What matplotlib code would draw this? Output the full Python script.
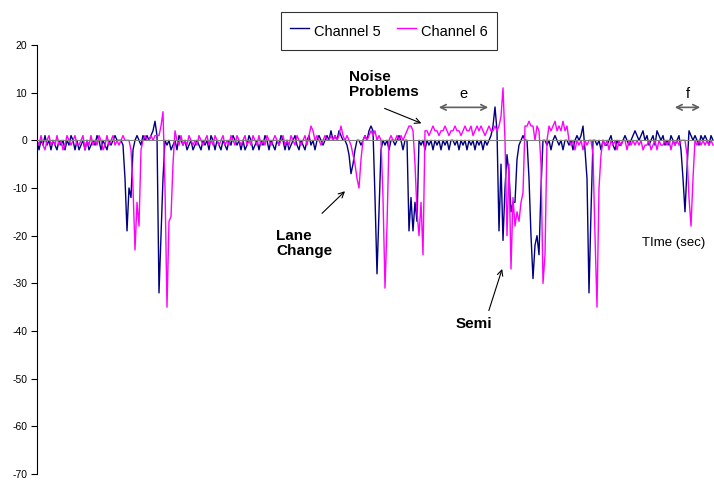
import numpy as np
import matplotlib
matplotlib.use("Agg")
import matplotlib.pyplot as plt

plt.rcParams['font.family'] = ['Liberation Sans', 'DejaVu Sans']
plt.rcParams['axes.unicode_minus'] = False

# one sample every 2 px of the original chart
channel5 = [
    0, -2, 0, -1, 1, -1, 0, -2, 0, -1, -2, 0, -1, 0, -2, 0, -1, 1, 0, -2,
    0, -2, -1, 0, -2, 0, -2, -1, 0, -1, 1, 0, -2, 0, -1, -2, 0, -1, 0, 1,
    0, 0, 0, -1, -8, -19, -10, -12, -2, 0, 1, 0, -1, 1, 0, 1, 0, 1, 2, 4,
    1, -32, -20, -8, 0, -1, 0, -2, -1, 0, -2, 1, 0, -1, 0, -2, -1, 0, -2, -1,
    0, -1, -2, 0, -1, 0, -2, 1, 0, -2, 0, -1, -2, 0, -1, -2, 0, -1, 1, 0,
    -1, 0, -2, 0, -2, -1, 1, 0, -2, -1, 0, -2, 0, -1, 1, 0, -2, 0, -1, -2,
    0, -1, 1, 0, -2, 0, -2, -1, 0, 1, -1, -2, 0, -1, -2, 0, 1, -1, 0, -2,
    0, 1, 0, -1, 0, 1, 0, 2, 0, 1, 0, 2, 1, 0, 0, -1, -3, -7, -5, -2,
    0, 0, -1, 0, 1, 0, 2, 3, 2, -12, -28, -15, -2, 0, -1, 0, -2, 0, 0, -1,
    0, 1, 0, -2, 0, 0, -19, -12, -19, -13, -17, 0, -1, 0, -2, 0, -1, 0, -2, 0,
    -1, 0, -2, 0, -1, 0, -2, 0, 0, -1, 0, -2, 0, -1, 0, -2, 0, -1, 0, -2,
    0, -1, 0, -2, 0, -1, 0, 1, 3, 7, 2, -19, -5, -21, -10, -3, -7, -15, -13, -13,
    -4, -1, 0, 1, 0, 0, -8, -20, -29, -22, -20, -24, -10, 0, 0, -1, 0, -2, 0, 1,
    0, -1, 0, -2, 0, 0, -1, 0, -2, 0, 1, 0, 1, 3, -2, -8, -32, -15, 0, 0,
    -1, 0, -2, 0, -1, -1, 0, 1, -1, -2, 0, -1, -1, 0, 1, 0, -1, 0, 1, 2,
    1, 0, 1, 2, 0, 1, -1, 0, 1, -1, 2, 1, 0, 1, -1, 0, -1, 1, 0, -1,
    0, 1, -2, -8, -15, -6, 2, 1, 0, 1, 0, -1, 1, 0, 1, 0, -1, 1, 0,
]

channel6 = [
    0, -1, 1, -1, -2, 0, 1, -1, 0, -1, 1, -1, 0, -2, -1, 1, 0, -1, 0, 1,
    -1, -1, 0, 1, -2, 0, -1, 1, -1, 0, -1, 1, 0, -2, -1, 1, -1, 0, 1, -1,
    0, -1, 0, 1, 0, 0, 0, -2, -10, -23, -13, -18, -2, 0, 1, 0, 0, 1, 0, 1,
    1, 1, 3, 6, -10, -35, -17, -16, -5, 2, 0, -1, 1, -1, 0, -1, 1, 0, -1, 0,
    -1, 1, 0, -1, 0, 1, -1, 0, -1, 1, 0, -1, 0, 1, -1, 0, -1, 1, 0, -1,
    1, 0, -1, 0, 1, -1, 0, -1, 1, 0, -1, 1, -1, 0, -1, 1, 0, -1, 0, 1,
    0, -1, 0, 1, -1, 0, -1, 1, 0, -1, 1, 0, -1, 0, 1, -1, 1, 3, 2, 0,
    1, 0, -1, 0, 1, 0, 0, 1, 0, 1, 0, 1, 3, 1, 0, 1, 0, -1, -3, -5,
    -8, -10, -4, 0, 1, 0, 1, 2, 1, 2, 0, 1, 0, -12, -31, -18, 0, 1, 0, 0,
    1, 0, 1, 0, 1, 2, 3, 3, 2, -5, -15, -20, -13, -24, 2, 2, 1, 2, 3, 2,
    2, 1, 2, 2, 3, 2, 1, 2, 2, 3, 2, 2, 1, 2, 3, 2, 2, 3, 1, 2,
    3, 2, 3, 2, 1, 2, 3, 2, 2, 3, 2, 3, 5, 11, 0, -20, -5, -27, -12, -18,
    -15, -17, -13, -11, 3, 3, 4, 3, 3, 0, 3, 2, -5, -30, -24, 0, 3, 2, 3, 4,
    2, 3, 2, 4, 2, 3, 0, -1, 0, -2, 0, -1, 0, -2, 0, -1, 0, 0, -3, -20,
    -35, -10, -3, 0, -1, 0, -2, 0, -1, 0, -2, 0, -1, 0, 0, -2, 0, -1, 0, -1,
    0, -1, 0, -2, -1, -1, 0, -2, -1, 0, -2, 0, -1, -1, 0, -1, 0, -2, 0, -1,
    0, -1, 0, 0, 0, -3, -12, -18, -8, 0, -1, 0, -1, 0, -1, 0, -1, 0, -1,
]

series_names = ['Channel 5', 'Channel 6']
y_ticks = [20, 10, 0, -10, -20, -30, -40, -50, -60, -70]

W, H = 714, 480
fig = plt.figure(figsize=(W / 100, H / 100), dpi=100)
ax = fig.add_axes([37 / W, 6 / H, (W - 37) / W, (474 - 45) / H])

x = np.arange(len(channel5))
ax.plot(x, channel5, color='#000080', lw=1.0, label=series_names[0])
ax.plot(np.arange(len(channel6)), channel6, color='#FF00FF', lw=1.0, label=series_names[1])

ax.set_xlim(0, 338.5)
ax.set_ylim(-70, 20)
ax.set_yticks(y_ticks)
ax.tick_params(axis='y', labelsize=7.5, length=4, width=0.8, direction='out', pad=3)
ax.set_xticks([])
ax.spines['top'].set_visible(False)
ax.spines['right'].set_visible(False)
ax.spines['bottom'].set_position(('data', 0))
ax.spines['bottom'].set_color('#808080')
ax.spines['left'].set_linewidth(0.8)


def px(xp, yp):
    # original pixel position -> data coords
    return ((xp - 37) / 2.0, (140 - yp) / 4.77)


bold = dict(fontsize=11, fontweight='bold', color='black')
ax.annotate('', xy=px(424, 124), xytext=px(382, 107),
            arrowprops=dict(arrowstyle='->', color='black', lw=0.8))
ax.text(*px(349, 84), 'Noise\nProblems', va='center', ha='left', linespacing=1.05, **bold)

ax.annotate('', xy=px(347, 189), xytext=px(320, 215),
            arrowprops=dict(arrowstyle='->', color='black', lw=0.8))
ax.text(*px(276, 243), 'Lane\nChange', va='center', ha='left', linespacing=1.05, **bold)

ax.annotate('', xy=px(503, 266), xytext=px(488, 313),
            arrowprops=dict(arrowstyle='->', color='black', lw=0.8))
ax.text(*px(456, 324), 'Semi', va='center', ha='left', **bold)

ax.annotate('', xy=px(491, 107), xytext=px(436, 107),
            arrowprops=dict(arrowstyle='<->', color='#606060', lw=1.2))
ax.text(*px(463, 94), 'e', ha='center', va='center', fontsize=10.5)

ax.annotate('', xy=px(703, 107), xytext=px(672, 107),
            arrowprops=dict(arrowstyle='<->', color='#606060', lw=1.2))
ax.text(*px(688, 94), 'f', ha='center', va='center', fontsize=10.5)

ax.text(*px(674, 243), 'TIme (sec)', ha='center', va='center', fontsize=9.5)

leg = fig.legend(loc='center', bbox_to_anchor=(389 / W, 1 - 31 / H), ncol=2,
                 fontsize=10.5, frameon=True, fancybox=False, handlelength=1.3,
                 handleheight=1.8, handletextpad=0.35, columnspacing=1.1,
                 borderpad=0.6)
leg.get_frame().set_edgecolor('black')
leg.get_frame().set_linewidth(0.8)

fig.savefig('out.png', dpi=100)
